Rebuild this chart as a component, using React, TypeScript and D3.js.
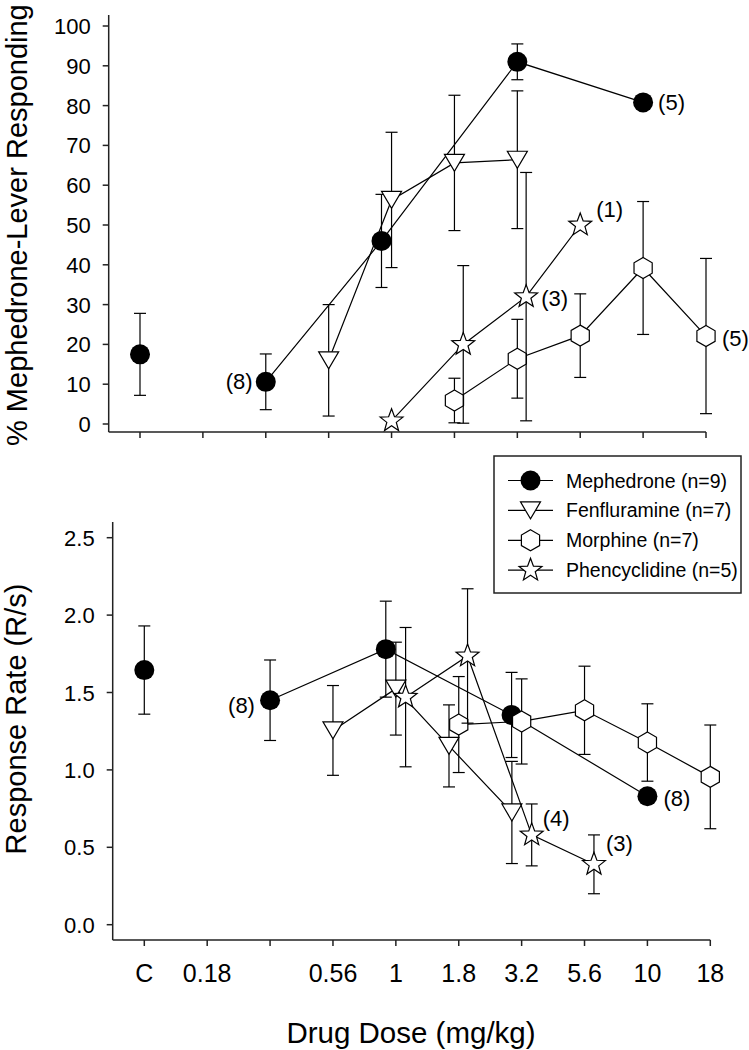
import React from 'react';
import * as d3 from 'd3';

// dose categories on the x axis (evenly spaced positions)
const doseLabels = ['C', '0.18', '', '0.56', '1', '1.8', '3.2', '5.6', '10', '18'];

// x positions are category indices; fractional parts are SigmaPlot-style offsets
// top panel: % mephedrone-lever responding
const mephPctX = [2, 3.84, 6, 8];
const mephPctMean = [10.6, 46, 91, 80.8];
const mephPctSem = [7.0, 11.7, 4.5, 0];
const mephPctCtrl = { mean: 17.5, sem: 10.3 };

const fenPctX = [3, 4, 5, 6];
const fenPctMean = [16, 56.3, 65.6, 66.4];
const fenPctSem = [14, 17, 17, 17.3];

const morPctX = [5, 6, 7, 8, 9];
const morPctMean = [5.9, 16.4, 22.2, 39.2, 22.1];
const morPctSem = [5.6, 9.9, 10.5, 16.7, 19.5];

const pcpPctX = [4, 5.14, 6.14, 7];
const pcpPctMean = [0.8, 20, 32, 50];
const pcpPctSem = [0, 19.8, 31.2, 0];

// bottom panel: response rate (R/s)
const mephRateX = [2, 3.84, 5.84, 8];
const mephRateMean = [1.45, 1.78, 1.355, 0.83];
const mephRateSem = [0.26, 0.31, 0.275, 0];
const mephRateCtrl = { mean: 1.645, sem: 0.285 };

const fenRateX = [3, 4, 4.845, 5.845];
const fenRateMean = [1.255, 1.525, 1.155, 0.725];
const fenRateSem = [0.29, 0.3, 0.265, 0.33];

const morRateX = [5, 6, 7, 8, 9];
const morRateMean = [1.293, 1.313, 1.385, 1.177, 0.955];
const morRateSem = [0.31, 0.275, 0.285, 0.25, 0.335];

const pcpRateX = [4.155, 5.14, 6.16, 7.15];
const pcpRateMean = [1.47, 1.736, 0.58, 0.39];
const pcpRateSem = [0.45, 0.434, 0.2, 0.19];

const legendNames = ['Mephedrone (n=9)', 'Fenfluramine (n=7)', 'Morphine (n=7)', 'Phencyclidine (n=5)'];

// n annotations: [series index, point index, text, dx, dy]
const pctNotes: [number, number, string, number, number][] = [
  [0, 0, '(8)', -40, 7],
  [0, 3, '(5)', 15, 8],
  [3, 3, '(1)', 16, -8],
  [3, 2, '(3)', 15, 9],
  [2, 4, '(5)', 16, 10],
];
const rateNotes: [number, number, string, number, number][] = [
  [0, 0, '(8)', -42, 13],
  [0, 3, '(8)', 16, 10],
  [3, 2, '(4)', 11, -9],
  [3, 3, '(3)', 12, -13],
];

const FONT = '"Liberation Sans", Arial, Helvetica, sans-serif';

type Shape = 'circle' | 'tri' | 'hex' | 'star';
const shapes: Shape[] = ['circle', 'tri', 'hex', 'star'];

const markerPath = (shape: Shape, cx: number, cy: number) => {
  const p = d3.path();
  if (shape === 'tri') {
    p.moveTo(cx - 10, cy - 8.5);
    p.lineTo(cx + 10, cy - 8.5);
    p.lineTo(cx, cy + 8.5);
    p.closePath();
  } else if (shape === 'hex') {
    for (let i = 0; i < 6; i++) {
      const a = -Math.PI / 2 + (i * Math.PI) / 3;
      const x = cx + 10.5 * Math.cos(a), y = cy + 10.5 * Math.sin(a);
      i === 0 ? p.moveTo(x, y) : p.lineTo(x, y);
    }
    p.closePath();
  } else if (shape === 'star') {
    for (let i = 0; i < 10; i++) {
      const a = -Math.PI / 2 + (i * Math.PI) / 5;
      const r = i % 2 === 0 ? 12 : 5;
      const x = cx + r * Math.cos(a), y = cy + r * Math.sin(a);
      i === 0 ? p.moveTo(x, y) : p.lineTo(x, y);
    }
    p.closePath();
  }
  return p.toString();
};

const Marker = ({ shape, cx, cy }: { shape: Shape; cx: number; cy: number }) =>
  shape === 'circle' ? (
    <circle cx={cx} cy={cy} r={10} fill="#000" />
  ) : (
    <path d={markerPath(shape, cx, cy)} fill="#fff" stroke="#000" strokeWidth={1.2} />
  );

interface Series {
  x: number[];
  mean: number[];
  sem: number[];
}

interface PanelProps {
  series: Series[];
  ctrl: { mean: number; sem: number };
  xRange: [number, number];
  yDomain: [number, number];
  yRange: [number, number];
  yTicks: number[];
  yFmt: (v: number) => string;
  axisX: number;
  axisTop: number;
  axisBottom: number;
  showXLabels: boolean;
  notes: [number, number, string, number, number][];
}

const Panel = (props: PanelProps) => {
  const { series, ctrl, xRange, yDomain, yRange, yTicks, yFmt, axisX, axisTop, axisBottom, showXLabels, notes } = props;
  const x = d3.scaleLinear().domain([0, doseLabels.length - 1]).range(xRange);
  const y = d3.scaleLinear().domain(yDomain).range(yRange);
  const line = d3.line<[number, number]>().x((d) => x(d[0])).y((d) => y(d[1]));

  const errBar = (xi: number, m: number, s: number, key: string) =>
    s > 0 ? (
      <g key={key} stroke="#000" strokeWidth={1.2}>
        <line x1={x(xi)} x2={x(xi)} y1={y(m - s)} y2={y(m + s)} />
        <line x1={x(xi) - 6} x2={x(xi) + 6} y1={y(m + s)} y2={y(m + s)} />
        <line x1={x(xi) - 6} x2={x(xi) + 6} y1={y(m - s)} y2={y(m - s)} />
      </g>
    ) : null;

  return (
    <g>
      {/* axes */}
      <g stroke="#222" strokeWidth={1.5} fill="none">
        <line x1={axisX} x2={axisX} y1={axisTop} y2={axisBottom} />
        <line x1={axisX} x2={xRange[1]} y1={axisBottom} y2={axisBottom} />
        {doseLabels.map((_, i) => (
          <line key={'xt' + i} x1={x(i)} x2={x(i)} y1={axisBottom} y2={axisBottom + 6} />
        ))}
        {yTicks.map((t) => (
          <line key={'yt' + t} x1={axisX - 6} x2={axisX} y1={y(t)} y2={y(t)} />
        ))}
      </g>
      {yTicks.map((t) => (
        <text key={'yl' + t} x={axisX - 18} y={y(t) + 8} textAnchor="end" fontSize={22} fontFamily={FONT} fill="#000">
          {yFmt(t)}
        </text>
      ))}
      {showXLabels &&
        doseLabels.map((l, i) => (
          <text key={'xl' + i} x={x(i)} y={982} textAnchor="middle" fontSize={25} fontFamily={FONT} fill="#000">
            {l}
          </text>
        ))}

      {/* series */}
      {series.map((s, si) => {
        const pts = s.x.map((xi, i) => [xi, s.mean[i]] as [number, number]);
        return (
          <g key={'s' + si}>
            <path d={line(pts) || ''} fill="none" stroke="#000" strokeWidth={1.2} />
            {si === 0 && errBar(0, ctrl.mean, ctrl.sem, 'ctrl')}
            {s.x.map((xi, i) => errBar(xi, s.mean[i], s.sem[i], 'e' + i))}
            {si === 0 && <Marker shape="circle" cx={x(0)} cy={y(ctrl.mean)} />}
            {s.x.map((xi, i) => (
              <Marker key={'m' + i} shape={shapes[si]} cx={x(xi)} cy={y(s.mean[i])} />
            ))}
          </g>
        );
      })}

      {notes.map(([si, pi, t, dx, dy], k) => (
        <text
          key={'n' + k}
          x={x(series[si].x[pi]) + dx}
          y={y(series[si].mean[pi]) + dy}
          fontSize={22}
          fontFamily={FONT}
          fill="#000"
        >
          {t}
        </text>
      ))}
    </g>
  );
};

export default function App() {
  const pctSeries: Series[] = [
    { x: mephPctX, mean: mephPctMean, sem: mephPctSem },
    { x: fenPctX, mean: fenPctMean, sem: fenPctSem },
    { x: morPctX, mean: morPctMean, sem: morPctSem },
    { x: pcpPctX, mean: pcpPctMean, sem: pcpPctSem },
  ];
  const rateSeries: Series[] = [
    { x: mephRateX, mean: mephRateMean, sem: mephRateSem },
    { x: fenRateX, mean: fenRateMean, sem: fenRateSem },
    { x: morRateX, mean: morRateMean, sem: morRateSem },
    { x: pcpRateX, mean: pcpRateMean, sem: pcpRateSem },
  ];

  return (
    <svg
      width={749}
      height={1050}
      style={{ position: 'absolute', left: 0, top: 0, background: '#fff' }}
    >
      <rect width={749} height={1050} fill="#fff" />
      <Panel
        series={pctSeries}
        ctrl={mephPctCtrl}
        xRange={[140, 706]}
        yDomain={[0, 100]}
        yRange={[424, 26]}
        yTicks={d3.range(0, 101, 10)}
        yFmt={(v) => String(v)}
        axisX={108.7}
        axisTop={15}
        axisBottom={432}
        showXLabels={false}
        notes={pctNotes}
      />
      <Panel
        series={rateSeries}
        ctrl={mephRateCtrl}
        xRange={[144.3, 710.3]}
        yDomain={[0, 2.5]}
        yRange={[924.7, 537.7]}
        yTicks={d3.range(0, 2.51, 0.5)}
        yFmt={(v) => v.toFixed(1)}
        axisX={112.7}
        axisTop={522}
        axisBottom={940}
        showXLabels={true}
        notes={rateNotes}
      />

      {/* legend */}
      <g>
        <rect x={494} y={456} width={247} height={137} fill="#fff" stroke="#222" strokeWidth={1.5} />
        {legendNames.map((name, i) => {
          const cy = 480.5 + i * 29.9;
          return (
            <g key={name}>
              <line x1={508} x2={553} y1={cy} y2={cy} stroke="#000" strokeWidth={1.2} />
              <Marker shape={shapes[i]} cx={530.5} cy={cy} />
              <text x={566} y={cy + 7} fontSize={19.5} fontFamily={FONT} fill="#000">
                {name}
              </text>
            </g>
          );
        })}
      </g>

      {/* axis titles */}
      <text
        transform="translate(27,446) rotate(-90)"
        fontSize={29}
        fontFamily={FONT}
        fill="#000"
      >
        % Mephedrone-Lever Responding
      </text>
      <text
        transform="translate(26,719) rotate(-90)"
        textAnchor="middle"
        fontSize={29}
        fontFamily={FONT}
        fill="#000"
      >
        Response Rate (R/s)
      </text>
      <text x={411} y={1043} textAnchor="middle" fontSize={29.5} fontFamily={FONT} fill="#000">
        Drug Dose (mg/kg)
      </text>
    </svg>
  );
}
